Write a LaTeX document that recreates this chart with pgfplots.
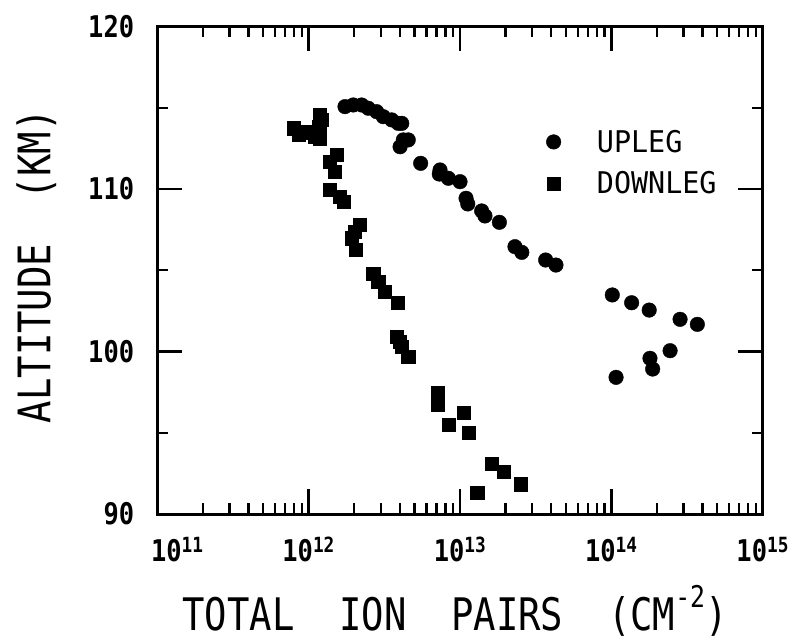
\documentclass[border=0pt]{standalone}
\usepackage{fontspec}
\usepackage{pgfplots}
\pgfplotsset{compat=1.18}
\setmainfont{DejaVu Sans Mono}
\newfontfamily\tickfont[FakeStretch=0.85]{DejaVu Sans Mono}
\newfontfamily\labfont[FakeStretch=0.83]{DejaVu Sans Mono}
\newfontfamily\legfont[FakeStretch=0.95]{DejaVu Sans Mono}

% total ion pairs (cm^-2) vs altitude (km)
\pgfplotstableread{
x y
1.738e12 115.07
1.972e12 115.17
2.239e12 115.17
2.477e12 114.97
2.812e12 114.76
3.112e12 114.45
3.540e12 114.25
3.908e12 114.04
4.121e12 114.04
4.217e12 113.02
4.018e12 112.60
4.550e12 113.02
5.495e12 111.58
7.379e12 111.17
7.295e12 110.92
8.375e12 110.66
1.000e13 110.45
1.096e13 109.43
1.125e13 109.08
1.390e13 108.65
1.462e13 108.34
1.820e13 107.95
2.307e13 106.45
2.559e13 106.10
3.681e13 105.63
4.305e13 105.32
1.014e14 103.48
1.361e14 103.00
1.778e14 102.55
2.844e14 101.98
3.698e14 101.67
2.443e14 100.05
1.799e14 99.58
1.875e14 98.92
1.074e14 98.41
}\upleg

\pgfplotstableread{
x y
7.925e11 113.74
8.551e11 113.32
9.772e11 113.50
1.102e12 113.22
1.189e12 113.12
1.175e12 113.83
1.189e12 114.55
1.219e12 114.25
1.531e12 112.09
1.384e12 111.68
1.493e12 111.06
1.384e12 109.94
1.611e12 109.53
1.694e12 109.22
2.183e12 107.78
2.023e12 107.35
1.923e12 106.97
2.042e12 106.25
2.673e12 104.81
2.884e12 104.30
3.192e12 103.68
3.855e12 103.00
3.819e12 100.91
3.972e12 100.60
4.121e12 100.30
4.550e12 99.68
7.129e12 97.43
7.079e12 96.71
8.375e12 95.52
1.052e13 96.23
1.146e13 95.00
1.618e13 93.12
1.932e13 92.60
2.529e13 91.83
1.300e13 91.31
}\downleg

\newcommand{\upper}[1]{\raisebox{0.5em}{\fontsize{30}{30}\selectfont #1}}

\begin{document}
\begin{tikzpicture}
\begin{axis}[
    name=ax,
    scale only axis,
    width=605.4bp, height=487.5bp,
    xmode=log,
    xmin=1e11, xmax=1e15,
    ymin=90, ymax=120,
    xtick={1e11,1e12,1e13,1e14,1e15},
    xticklabels={\hspace*{40bp}10\textsuperscript{11},10\textsuperscript{12},10\textsuperscript{13},10\textsuperscript{14},10\textsuperscript{15}},
    ytick={90,100,110,120},
    yticklabels={90,100,110,120},
    minor ytick={95,105,115},
    axis line style={line width=3bp},
    tick style={line width=2.4bp, black},
    major tick length=25bp,
    minor tick length=11bp,
    xticklabel style={font=\tickfont\bfseries\fontsize{30}{32}\selectfont, anchor=base, yshift=-47bp},
    yticklabel style={font=\tickfont\bfseries\fontsize{30}{32}\selectfont, anchor=east, inner sep=0pt, xshift=-23bp},
    xlabel={TOTAL\ \ ION\ \ PAIRS\ \ (CM\upper{-2})},
    ylabel={ALTITUDE\ \ (KM)},
    xlabel style={font=\labfont\fontsize{45}{48}\selectfont, at={(rel axis cs:0.4917,-0.238)}, anchor=base},
    ylabel style={font=\labfont\fontsize{45}{48}\selectfont, at={(rel axis cs:-0.1767,0.508)}, anchor=base},
    legend style={draw=none, fill=none, at={(rel axis cs:0.6373,0.792)}, anchor=north west,
        font=\legfont\fontsize{30}{32}\selectfont, row sep=18bp,
        nodes={inner sep=0pt},
        /tikz/every odd column/.append style={column sep=36bp}},
    legend cell align=left,
]
\addplot[only marks, mark=*, mark size=7.3bp, black] table[x=x, y=y] {\upleg};
\addlegendentry{UPLEG}
\addplot[only marks, mark=square*, mark size=6.6bp, black] table[x=x, y=y] {\downleg};
\addlegendentry{DOWNLEG}
\end{axis}
\pgfresetboundingbox
\path ([xshift=-157.3bp,yshift=-126bp]ax.south west) rectangle ([xshift=38.3bp,yshift=26.5bp]ax.north east);
\end{tikzpicture}
\end{document}
